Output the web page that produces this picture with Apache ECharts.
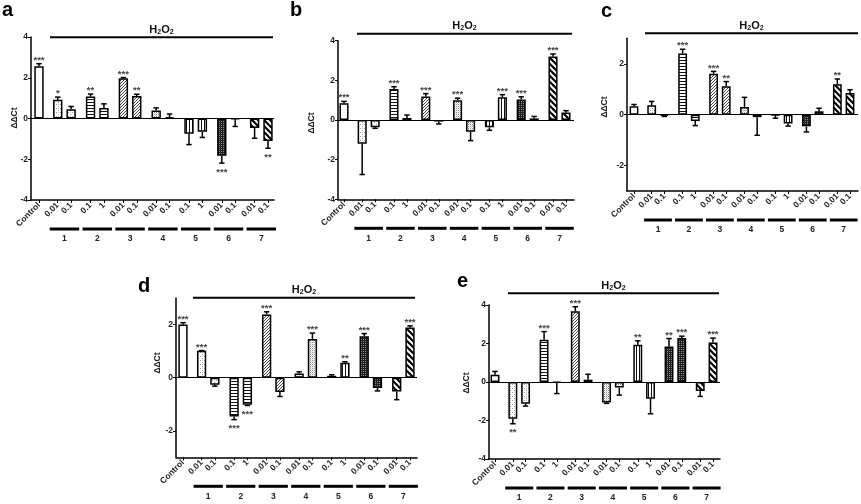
<!DOCTYPE html>
<html><head><meta charset="utf-8">
<script src="https://cdn.jsdelivr.net/npm/echarts@6/dist/echarts.min.js"></script>
<style>html,body{margin:0;padding:0;background:#fff}#c{width:861px;height:504px}</style>
</head><body><div id="c"></div>
<script>
// ---------- DATA ----------
const categories = ['Control','0.01','0.1','0.1','1','0.01','0.1','0.01','0.1','0.1','1','0.01','0.1','0.01','0.1'];
const groupOfBar = [0,1,1,2,2,3,3,4,4,5,5,6,6,7,7];
const groupLabels = ['1','2','3','4','5','6','7'];
const treatmentLabel = 'H2O2';
const yTicks4 = [-4,-2,0,2,4];
const yTicks3 = [-2,0,2];

const valuesA = [2.56,0.92,0.46,1.08,0.52,1.98,1.11,0.39,0.07,-0.75,-0.65,-1.83,-0.03,-0.47,-1.1];
const errorsA = [0.13,0.13,0.13,0.12,0.2,0.03,0.08,0.13,0.15,0.53,0.28,0.36,0.36,0.5,0.36];
const starsA  = ['***','*','','**','','***','**','','','','','***','','','**'];

const valuesB = [0.84,-1.2,-0.37,1.56,0.1,1.18,-0.08,1.0,-0.59,-0.37,1.15,1.03,0.08,3.2,0.38];
const errorsB = [0.1,1.55,0.05,0.12,0.15,0.15,0.12,0.1,0.45,0.15,0.13,0.14,0.1,0.13,0.09];
const starsB  = ['***','','','***','','***','','***','','','***','***','','***',''];

const valuesC = [0.33,0.37,-0.05,2.4,-0.25,1.61,1.12,0.3,-0.1,-0.02,-0.35,-0.46,0.13,1.19,0.85];
const errorsC = [0.07,0.15,0.02,0.17,0.18,0.09,0.18,0.38,0.71,0.12,0.1,0.22,0.12,0.21,0.13];
const starsC  = ['','','','***','','***','**','','','','','','','**',''];

const valuesD = [2.0,1.01,-0.27,-1.46,-1.02,2.38,-0.54,0.16,1.46,0.07,0.56,1.56,-0.39,-0.52,1.89];
const errorsD = [0.07,0.01,0.05,0.12,0.03,0.1,0.17,0.06,0.22,0.04,0.04,0.1,0.11,0.31,0.06];
const starsD  = ['***','***','','***','***','***','','','***','','**','***','','','***'];

const valuesE = [0.38,-1.91,-1.13,2.2,-0.03,3.68,0.12,-1.06,-0.28,1.93,-0.87,1.84,2.29,-0.47,2.05];
const errorsE = [0.17,0.26,0.12,0.42,0.57,0.23,0.28,0.05,0.4,0.21,0.78,0.42,0.09,0.28,0.23];
const starsE  = ['','**','','***','','***','','','','**','','**','***','','***'];

// ---------- LAYOUT ----------
const FONT = '"Liberation Sans", Arial, sans-serif';
const GROUP_STEP = 2.45, FIRST_OFFSET = 1.4;
const positions = groupOfBar.map((g, i) => g === 0 ? 0 : (g - 1) * GROUP_STEP + FIRST_OFFSET + ((i - 1) % 2));
const lastPos = positions[positions.length - 1];

const panels = [
  {letter:'a', values:valuesA, errors:errorsA, stars:starsA, ymin:-4, ymax:4, yTicks:yTicks4,
   axisX:31, ctrlX:39, lastX:268, rightX:274, top:37, bottom:200, yNameX:15, yNameY:118,
   letterX:2, letterY:16, lineX1:50, lineX2:273, lineY:37.3},
  {letter:'b', values:valuesB, errors:errorsB, stars:starsB, ymin:-4, ymax:4, yTicks:yTicks4,
   axisX:338, ctrlX:344, lastX:566, rightX:574, top:40.7, bottom:199.3, yNameX:312, yNameY:123,
   letterX:290, letterY:16.5, lineX1:357, lineX2:572, lineY:33.7},
  {letter:'c', values:valuesC, errors:errorsC, stars:starsC, ymin:-3, ymax:3, yTicks:yTicks3,
   axisX:627, ctrlX:634, lastX:850, rightX:858, top:38.3, bottom:191, yNameX:605, yNameY:107,
   letterX:601, letterY:17, lineX1:645, lineX2:858, lineY:33.3},
  {letter:'d', values:valuesD, errors:errorsD, stars:starsD, ymin:-3, ymax:3, yTicks:yTicks3,
   axisX:176, ctrlX:183, lastX:410, rightX:417, top:298, bottom:457.3, yNameX:158, yNameY:363,
   letterX:138, letterY:292, lineX1:193, lineX2:415, lineY:297.7},
  {letter:'e', values:valuesE, errors:errorsE, stars:starsE, ymin:-4, ymax:4, yTicks:yTicks4,
   axisX:489, ctrlX:495, lastX:713, rightX:720, top:305, bottom:459, yNameX:467, yNameY:383,
   letterX:457, letterY:287, lineX1:508, lineX2:719, lineY:293.3}
];

// ---------- PATTERNS ----------
function makePattern(kind) {
  if (kind === 'white') return '#ffffff';
  const c = document.createElement('canvas');
  let ctx;
  const px = (x, y, col) => { ctx.fillStyle = col; ctx.fillRect(x, y, 1, 1); };
  switch (kind) {
    case 'dots':
      c.width = 4; c.height = 4; ctx = c.getContext('2d');
      ctx.fillStyle = '#fff'; ctx.fillRect(0, 0, 4, 4);
      px(0, 0, '#9a9a9a'); px(2, 2, '#9a9a9a'); px(2, 0, '#d0d0d0');
      break;
    case 'hlines':
      c.width = 4; c.height = 3; ctx = c.getContext('2d');
      ctx.fillStyle = '#fff'; ctx.fillRect(0, 0, 4, 3);
      ctx.fillStyle = '#111'; ctx.fillRect(0, 0, 4, 1);
      break;
    case 'fineDiag':
      c.width = 3; c.height = 3; ctx = c.getContext('2d');
      ctx.fillStyle = '#fff'; ctx.fillRect(0, 0, 3, 3);
      px(0, 2, '#444'); px(1, 1, '#444'); px(2, 0, '#444');
      break;
    case 'dots2':
      c.width = 2; c.height = 2; ctx = c.getContext('2d');
      ctx.fillStyle = '#fff'; ctx.fillRect(0, 0, 2, 2);
      px(0, 0, '#8a8a8a'); px(1, 1, '#d5d5d5');
      break;
    case 'vlines':
      c.width = 3; c.height = 4; ctx = c.getContext('2d');
      ctx.fillStyle = '#fff'; ctx.fillRect(0, 0, 3, 4);
      ctx.fillStyle = '#111'; ctx.fillRect(0, 0, 1, 4);
      break;
    case 'dark':
      c.width = 2; c.height = 2; ctx = c.getContext('2d');
      ctx.fillStyle = '#1e1e1e'; ctx.fillRect(0, 0, 2, 2);
      px(1, 1, '#8c8c8c');
      break;
    case 'thickDiag':
      c.width = 6; c.height = 6; ctx = c.getContext('2d');
      ctx.fillStyle = '#fff'; ctx.fillRect(0, 0, 6, 6);
      ctx.strokeStyle = '#000'; ctx.lineWidth = 2.2;
      for (const k of [-6, 0, 6]) { ctx.beginPath(); ctx.moveTo(k - 1, -1); ctx.lineTo(k + 7, 7); ctx.stroke(); }
      break;
  }
  return { image: c, repeat: 'repeat' };
}
const groupFills = ['white','dots','hlines','fineDiag','dots2','vlines','dark','thickDiag'].map(makePattern);

function labelAt(v) {
  for (let i = 0; i < positions.length; i++) if (Math.abs(positions[i] - v) < 1e-6) return categories[i];
  return '';
}

// ---------- BUILD OPTION ----------
const grid = [], xAxis = [], yAxis = [], series = [], graphic = [];
panels.forEach((p, k) => {
  const unit = (p.lastX - p.ctrlX) / lastPos;
  const xmin = -(p.ctrlX - p.axisX) / unit;
  const xmax = lastPos + (p.rightX - p.lastX) / unit;
  grid.push({ left: p.axisX, top: p.top, width: p.rightX - p.axisX, height: p.bottom - p.top, containLabel: false });
  xAxis.push({
    type: 'value', gridIndex: k, min: xmin, max: xmax,
    axisLine: { show: true, onZero: false, lineStyle: { color: '#000', width: 1.5 } },
    axisTick: { show: true, customValues: positions, length: 3, lineStyle: { color: '#000', width: 1 } },
    axisLabel: { customValues: positions, rotate: 45, formatter: labelAt, fontSize: 8.5, fontWeight: 'bold',
                 color: '#222', margin: 4, fontFamily: FONT },
    splitLine: { show: false }
  });
  yAxis.push({
    type: 'value', gridIndex: k, min: p.ymin, max: p.ymax, interval: 2,
    axisLine: { show: true, onZero: false, lineStyle: { color: '#000', width: 1.5 } },
    axisTick: { show: true, customValues: p.yTicks, length: 3, lineStyle: { color: '#000', width: 1 } },
    axisLabel: { customValues: p.yTicks, fontSize: 8.5, fontWeight: 'bold', color: '#222', margin: 3, fontFamily: FONT },
    splitLine: { show: false }
  });
  series.push({
    type: 'bar', xAxisIndex: k, yAxisIndex: k, barWidth: unit * 0.7, z: 2,
    itemStyle: { borderColor: '#000', borderWidth: 1.5 },
    data: p.values.map((v, i) => ({ value: [positions[i], v], itemStyle: { color: groupFills[groupOfBar[i]] } })),
    markLine: { silent: true, symbol: ['none', 'none'], label: { show: false },
                lineStyle: { color: '#000', width: 1.2, type: 'solid' }, data: [{ yAxis: 0 }] }
  });
  series.push({
    type: 'custom', xAxisIndex: k, yAxisIndex: k, z: 3, clip: false,
    encode: { x: 0, y: 1 },
    data: p.values.map((v, i) => [positions[i], v, p.errors[i], i]),
    renderItem: (params, api) => {
      const x = api.value(0), v = api.value(1), e = api.value(2), i = api.value(3);
      const end = v >= 0 ? v + e : v - e;
      const p0 = api.coord([x, v]), p1 = api.coord([x, end]);
      const children = [
        { type: 'line', shape: { x1: p0[0], y1: p0[1], x2: p1[0], y2: p1[1] }, style: { stroke: '#000', lineWidth: 1.5 } },
        { type: 'line', shape: { x1: p1[0] - 2.7, y1: p1[1], x2: p1[0] + 2.7, y2: p1[1] }, style: { stroke: '#000', lineWidth: 1.5 } }
      ];
      const s = p.stars[i];
      if (s) {
        children.push({ type: 'text', style: { text: s, x: p1[0], y: v >= 0 ? p1[1] - 3.5 : p1[1] + 9,
          align: 'center', verticalAlign: 'middle', fill: '#444', fontSize: 9.5, fontWeight: 'bold', fontFamily: FONT } });
      }
      return { type: 'group', children };
    }
  });
  series.push({
    type: 'custom', xAxisIndex: k, yAxisIndex: k, z: 3, clip: false,
    encode: { x: 0, y: 1 },
    data: groupLabels.map((g, j) => [(positions[2 * j + 1] + positions[2 * j + 2]) / 2, p.ymin, j]),
    renderItem: (params, api) => {
      const j = api.value(2);
      const a = api.coord([positions[2 * j + 1] - 0.6, p.ymin]);
      const b = api.coord([positions[2 * j + 2] + 0.6, p.ymin]);
      const y = a[1] + 29;
      return { type: 'group', children: [
        { type: 'rect', shape: { x: a[0], y: y - 1.5, width: b[0] - a[0], height: 3 }, style: { fill: '#000' } },
        { type: 'text', style: { text: groupLabels[j], x: (a[0] + b[0]) / 2, y: y + 10, align: 'center', verticalAlign: 'middle',
          fill: '#222', fontSize: 8.5, fontWeight: 'bold', fontFamily: FONT } }
      ] };
    }
  });
  // decorations
  graphic.push({ type: 'text', left: null, x: p.letterX, y: p.letterY + 4,
    style: { text: p.letter, fontSize: 20, fontWeight: 'bold', fontFamily: FONT, fill: '#000', align: 'left', verticalAlign: 'bottom' } });
  graphic.push({ type: 'line', shape: { x1: p.lineX1, y1: p.lineY, x2: p.lineX2, y2: p.lineY }, style: { stroke: '#000', lineWidth: 2 } });
  graphic.push({ type: 'text', x: (p.lineX1 + p.lineX2) / 2, y: p.lineY - 7.3,
    style: { text: 'H{s|2}O{s|2}', fontSize: 11, fontWeight: 'bold', fontFamily: FONT, fill: '#111', align: 'center', verticalAlign: 'middle',
      rich: { s: { fontSize: 7, fontWeight: 'bold', fontFamily: FONT, fill: '#111', verticalAlign: 'bottom', lineHeight: 6, padding: [4, 0, 0, 0] } } } });
  graphic.push({ type: 'text', x: p.yNameX, y: p.yNameY, rotation: Math.PI / 2,
    style: { text: 'ΔΔCt', fontSize: 8.5, fontWeight: 'bold', fontFamily: FONT, fill: '#222', align: 'center', verticalAlign: 'middle' } });
});

const chart = echarts.init(document.getElementById('c'), null, { renderer: 'canvas' });
chart.setOption({ animation: false, backgroundColor: '#fff', grid, xAxis, yAxis, series, graphic });
</script>
</body></html>
